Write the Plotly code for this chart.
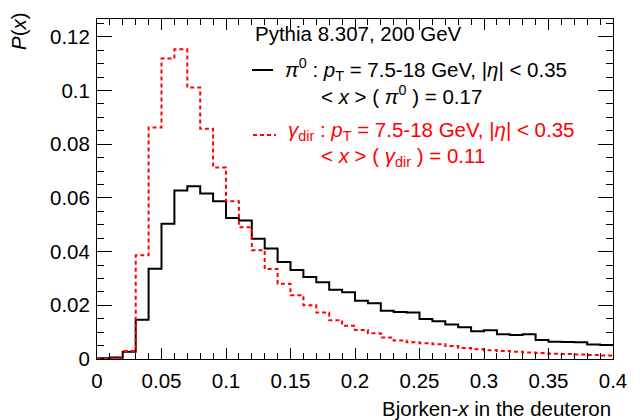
import plotly.graph_objects as go

# Bin edges of the Bjorken-x histograms (bin width 0.01)
x_edges = [0.00, 0.01, 0.02, 0.03, 0.04, 0.05, 0.06, 0.07, 0.08, 0.09,
           0.10, 0.11, 0.12, 0.13, 0.14, 0.15, 0.16, 0.17, 0.18, 0.19,
           0.20, 0.21, 0.22, 0.23, 0.24, 0.25, 0.26, 0.27, 0.28, 0.29,
           0.30, 0.31, 0.32, 0.33, 0.34, 0.35, 0.36, 0.37, 0.38, 0.39, 0.40]

# P(x) for pi0 (black, solid)
p_pi0 = [0.0003, 0.0006, 0.0027, 0.0146, 0.0336, 0.0504, 0.0627, 0.0643, 0.0616, 0.0587,
         0.0525, 0.0516, 0.0448, 0.0411, 0.0361, 0.0331, 0.0305, 0.0286, 0.0258, 0.0249,
         0.0217, 0.0208, 0.0180, 0.0175, 0.0173, 0.0149, 0.0141, 0.0128, 0.0118, 0.0103,
         0.0107, 0.0092, 0.0089, 0.0092, 0.0071, 0.0064, 0.0063, 0.0062, 0.0054, 0.0052]

# P(x) for direct photons (red, dashed)
p_gdir = [0.0000, 0.0002, 0.0030, 0.0386, 0.0862, 0.1119, 0.1153, 0.1011, 0.0857, 0.0713,
          0.0587, 0.0491, 0.0405, 0.0335, 0.0280, 0.0237, 0.0200, 0.0173, 0.0144, 0.0124,
          0.0108, 0.0096, 0.0080, 0.0069, 0.0062, 0.0059, 0.0055, 0.0048, 0.0041, 0.0036,
          0.0033, 0.0030, 0.0027, 0.0024, 0.0022, 0.0020, 0.0019, 0.0017, 0.0015, 0.0013]

x_range = [0, 0.4]
y_range = [0, 0.1266]

FONT = "Liberation Sans, Arial, Helvetica, sans-serif"
FS = 20.5
RED = "#ff0000"

# The page body has an 8px margin, so the figure is drawn 8px in from the
# window's top-left corner; the figure is sized so it fills the window.
OFF = 8
W, H = 640 - OFF, 420 - OFF
# plot-area edges in window pixels: left 97, right 613, top 19, bottom 359
L = 97 - OFF
T = 19 - OFF
R = W - (613 - OFF)
B = H - (359 - OFF)
PW, PH = W - L - R, H - T - B


def fx(px):
    """window pixel x -> paper coordinate"""
    return (px - OFF - L) / PW


def fy(py):
    """window pixel y -> paper coordinate"""
    return (H - B - (py - OFF)) / PH


fig = go.Figure()
fig.add_trace(go.Scatter(
    x=x_edges, y=p_pi0 + [p_pi0[-1]], mode="lines", line_shape="hv",
    line=dict(color="black", width=2), name="pi0", showlegend=False,
    cliponaxis=True))
fig.add_trace(go.Scatter(
    x=x_edges, y=p_gdir + [p_gdir[-1]], mode="lines", line_shape="hv",
    line=dict(color=RED, width=2, dash="4px,3px"), name="gamma_dir",
    showlegend=False, cliponaxis=True))

axis_common = dict(
    showgrid=False, zeroline=False, showline=True, linecolor="black",
    linewidth=1, mirror="ticks", ticks="inside", tickcolor="black",
    tickwidth=1, tickfont=dict(family=FONT, size=FS, color="black"),
)
fig.update_xaxes(range=x_range, tick0=0, dtick=0.05, ticklen=11,
                 minor=dict(dtick=0.01, ticklen=6, ticks="inside", tickcolor="black"),
                 ticklabelstandoff=3, **axis_common)
fig.update_yaxes(range=y_range, tick0=0, dtick=0.02, ticklen=15,
                 minor=dict(dtick=0.005, ticklen=7, ticks="inside", tickcolor="black"),
                 ticklabelstandoff=2, **axis_common)

ann = []
ann.append(dict(text="<i>P</i>(<i>x</i>)", xref="paper", yref="paper",
                x=fx(19), y=fy(31), xanchor="center", yanchor="middle",
                textangle=-90, showarrow=False,
                font=dict(family=FONT, size=FS, color="black")))
ann.append(dict(text="Bjorken-<i>x</i> in the deuteron", xref="paper", yref="paper",
                x=fx(613), y=fy(408), xanchor="right", yanchor="middle",
                showarrow=False, font=dict(family=FONT, size=FS, color="black")))
ann.append(dict(text="Pythia 8.307, 200 GeV", xref="paper", yref="paper",
                x=fx(253), y=fy(34), xanchor="left", yanchor="middle",
                showarrow=False, font=dict(family=FONT, size=FS, color="black")))
ann.append(dict(text="<i>π</i><sup>0</sup> : <i>p</i><sub>T</sub> = 7.5-18 GeV, |<i>η</i>| &lt; 0.35",
                xref="paper", yref="paper", x=fx(283), y=fy(69), xanchor="left",
                yanchor="middle", showarrow=False,
                font=dict(family=FONT, size=FS, color="black")))
ann.append(dict(text="&lt; <i>x</i> &gt; ( <i>π</i><sup>0</sup> ) = 0.17",
                xref="paper", yref="paper", x=fx(319), y=fy(95), xanchor="left",
                yanchor="middle", showarrow=False,
                font=dict(family=FONT, size=FS, color="black")))
ann.append(dict(text="<i>γ</i><sub>dir</sub> : <i>p</i><sub>T</sub> = 7.5-18 GeV, |<i>η</i>| &lt; 0.35",
                xref="paper", yref="paper", x=fx(286), y=fy(131), xanchor="left",
                yanchor="middle", showarrow=False,
                font=dict(family=FONT, size=FS, color=RED)))
ann.append(dict(text="&lt; <i>x</i> &gt; ( <i>γ</i><sub>dir</sub> ) = 0.11",
                xref="paper", yref="paper", x=fx(319), y=fy(157), xanchor="left",
                yanchor="middle", showarrow=False,
                font=dict(family=FONT, size=FS, color=RED)))

shapes = [
    dict(type="line", xref="paper", yref="paper", x0=fx(252), x1=fx(273),
         y0=fy(70), y1=fy(70), line=dict(color="black", width=2)),
    dict(type="line", xref="paper", yref="paper", x0=fx(253), x1=fx(276),
         y0=fy(135), y1=fy(135), line=dict(color=RED, width=2, dash="4px,3px")),
]

fig.update_layout(
    width=W, height=H, margin=dict(l=L, r=R, t=T, b=B, pad=0),
    paper_bgcolor="white", plot_bgcolor="white",
    annotations=ann, shapes=shapes, showlegend=False,
    font=dict(family=FONT, size=FS, color="black"),
)

fig.write_html("out.html")
